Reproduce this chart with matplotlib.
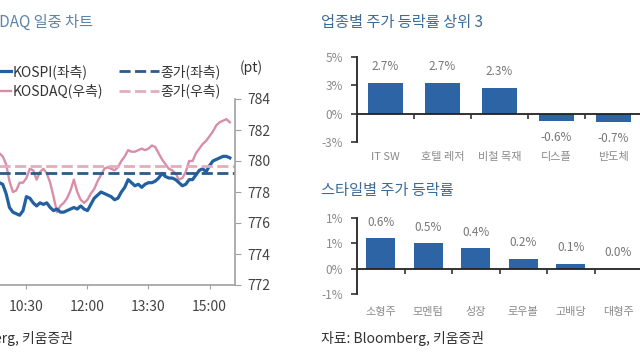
import numpy as np
import pandas as pd
import matplotlib
matplotlib.use("Agg")
import matplotlib.pyplot as plt
import matplotlib.dates as mdates
from matplotlib.ticker import FuncFormatter

plt.rcParams["font.family"] = ["Noto Sans CJK KR", "DejaVu Sans"]

# ---- intraday data (5-minute readings, right-axis units) ----
TIMES = pd.date_range("2020-01-02 09:50", "2020-01-02 15:30", freq="5min")
KOSDAQ = [780.5, 780.3, 779.8, 778.7, 778.0, 778.1, 778.6, 778.6, 778.9, 779.5,
          779.4, 778.8, 779.3, 779.5, 779.2, 778.6, 777.7, 776.7, 777.1, 777.3,
          777.6, 778.1, 778.8, 778.0, 777.5, 777.3, 777.5, 777.9, 778.2, 778.7,
          779.1, 779.5, 779.6, 779.5, 779.4, 779.6, 780.0, 780.3, 780.7, 780.6,
          780.6, 780.7, 780.8, 780.7, 780.8, 781.0, 780.9, 780.5, 780.1, 779.8,
          779.5, 779.4, 779.2, 778.8, 778.9, 779.3, 780.0, 780.0, 780.5, 780.8,
          781.1, 781.3, 781.6, 781.9, 782.3, 782.5, 782.6, 782.7, 782.5]
KOSPI = [778.6, 778.5, 777.9, 777.0, 776.7, 776.6, 776.5, 776.8, 777.7, 777.6,
         777.3, 777.1, 777.3, 777.2, 777.3, 777.0, 776.8, 776.9, 776.7, 776.7,
         776.8, 776.9, 777.0, 776.9, 777.1, 776.9, 776.8, 777.2, 777.6, 777.8,
         778.0, 777.9, 777.8, 777.7, 777.5, 777.6, 778.0, 778.3, 778.8, 778.6,
         778.4, 778.5, 778.3, 778.5, 778.6, 778.6, 778.7, 778.9, 779.2, 779.0,
         778.9, 778.9, 778.8, 778.6, 778.4, 778.5, 778.8, 778.8, 779.1, 779.4,
         779.5, 779.3, 779.7, 780.0, 780.1, 780.2, 780.3, 780.3, 780.2]
KOSPI_CLOSE = 779.2
KOSDAQ_CLOSE = 779.7
XTICK_TIMES = ["10:30", "12:00", "13:30", "15:00"]
Y_TICKS = [772, 774, 776, 778, 780, 782, 784]

# ---- sector bars ----
SECTORS = ["IT SW", "호텔 레저", "비철 목재", "디스플", "반도체"]
SECTOR_CHG = [2.7, 2.7, 2.3, -0.6, -0.7]
SECTOR_TICKS = [-2.5, 0, 2.5, 5]

# ---- style bars ----
STYLES = ["소형주", "모멘텀", "성장", "로우볼", "고배당", "대형주"]
STYLE_CHG = [0.6, 0.5, 0.4, 0.2, 0.1, 0.0]
STYLE_TICKS = [-0.5, 0, 0.5, 1.0]

W, H = 640, 360
BAR = "#2d64a5"
GRAY = "#777777"
TITLE_C = "#3c6c96"


def px(x0, y0, x1, y1):
    # pixel box (top-left origin) -> figure fraction rect
    return [x0 / W, 1 - y1 / H, (x1 - x0) / W, (y1 - y0) / H]


def pct_fmt(v, _pos):
    r = int(np.sign(v) * np.floor(abs(v) + 0.5))
    return f"{r}%"


fig = plt.figure(figsize=(6.4, 3.6), dpi=100)

# ---------------- left: intraday chart ----------------
ax = fig.add_axes(px(-34.6, 99, 235, 285))
t0 = pd.Timestamp("2020-01-02 09:00")
ax.plot(TIMES, KOSDAQ, color="#d98ea7", lw=1.7, label="KOSDAQ(우측)")
ax.plot(TIMES, KOSPI, color="#23609f", lw=2.3, label="KOSPI(좌측)")
l1 = ax.axhline(KOSPI_CLOSE, color="#2b5a8c", lw=2, ls=(0, (4, 1.6)), label="종가(좌측)")
l2 = ax.axhline(KOSDAQ_CLOSE, color="#e3adbd", lw=2, ls=(0, (4, 1.6)), label="종가(우측)")
ax.set_xlim(t0, t0 + pd.Timedelta(minutes=397.6))
ax.set_ylim(772, 784)
ax.set_xticks([pd.Timestamp("2020-01-02 " + t) for t in XTICK_TIMES])
ax.xaxis.set_major_formatter(mdates.DateFormatter("%H:%M"))
ax.yaxis.tick_right()
ax.set_yticks(Y_TICKS)
for s in ["top", "left"]:
    ax.spines[s].set_visible(False)
for s in ["bottom", "right"]:
    ax.spines[s].set_color("#a0a0a0")
    ax.spines[s].set_linewidth(1.2)
ax.tick_params(axis="x", length=3, color="#a0a0a0", labelsize=10, labelcolor="#444444", pad=8)
ax.tick_params(axis="y", length=4, color="#a0a0a0", labelsize=10, labelcolor="#444444", pad=5)

h = ax.get_lines()
ax.legend([h[1], h[0], l1, l2], ["KOSPI(좌측)", "KOSDAQ(우측)", "종가(좌측)", "종가(우측)"],
          ncol=2, loc="upper left", bbox_to_anchor=(-36 / W, 1 - 57 / H),
          bbox_transform=fig.transFigure, frameon=False, borderpad=0,
          handlelength=2.9, handletextpad=0.1, columnspacing=1.15,
          labelspacing=0.35, fontsize=10, labelcolor="#333333")
fig.text(240 / W, 1 - 68 / H, "(pt)", fontsize=10, color="#333333", va="center")
fig.text(93 / W, 1 - 22 / H, "KOSPI, KOSDAQ 일중 차트", fontsize=11, color="#5a84a8",
         ha="right", va="center")
fig.text(73 / W, 1 - 338 / H, "자료: Bloomberg, 키움증권", fontsize=10, color="#333333",
         ha="right", va="center")


# ---------------- right: bar charts ----------------
def bar_panel(rect, cats, vals, ticks, ylim, lab_off):
    b = fig.add_axes(rect)
    x = np.arange(len(cats))
    b.bar(x, vals, width=0.62, color=BAR, zorder=2)
    b.set_xlim(-0.5, len(cats) - 0.5)
    b.set_ylim(*ylim)
    b.set_yticks(ticks)
    b.yaxis.set_major_formatter(FuncFormatter(pct_fmt))
    for s in ["top", "right", "bottom"]:
        b.spines[s].set_visible(False)
    b.spines["left"].set_color("#333333")
    b.spines["left"].set_linewidth(1.4)
    b.axhline(0, color="#222222", lw=1.3, zorder=3)
    b.set_xticks([])
    b.tick_params(axis="y", length=4, width=1.2, color="#333333", labelsize=8.5,
                  labelcolor="#8a8a8a", pad=6)
    # boundary tick marks hanging below the zero line
    b.plot(x[1:] - 0.5, np.zeros(len(x) - 1), ls="none", marker=3, ms=3.5, mew=1.2,
           color="#333333", clip_on=False, zorder=3)
    for xi, v, c in zip(x, vals, cats):
        off = 7 if v >= 0 else -7
        b.annotate(f"{v:.1f}%", (xi, v), xytext=(0, off), textcoords="offset points",
                   ha="center", va="bottom" if v >= 0 else "top", fontsize=8.5, color=GRAY)
        b.annotate(c, (xi, 0), xycoords=("data", "axes fraction"), xytext=(0, -lab_off),
                   textcoords="offset points", ha="center", va="center", fontsize=8,
                   color="#8a8a8a")
    return b


bar_panel(px(357, 57, 642, 142.5), SECTORS, SECTOR_CHG, SECTOR_TICKS, (-2.5, 5), 10.4)
bar_panel(px(357, 218, 642, 294), STYLES, STYLE_CHG, STYLE_TICKS, (-0.5, 1.0), 12.7)

fig.text(321 / W, 1 - 22 / H, "업종별 주가 등락률 상위 3", fontsize=11, color=TITLE_C, va="center")
fig.text(321 / W, 1 - 190 / H, "스타일별 주가 등락률", fontsize=11, color=TITLE_C, va="center")
fig.text(321 / W, 1 - 338 / H, "자료: Bloomberg, 키움증권", fontsize=10, color="#333333", va="center")

fig.savefig("out.png", dpi=100)
